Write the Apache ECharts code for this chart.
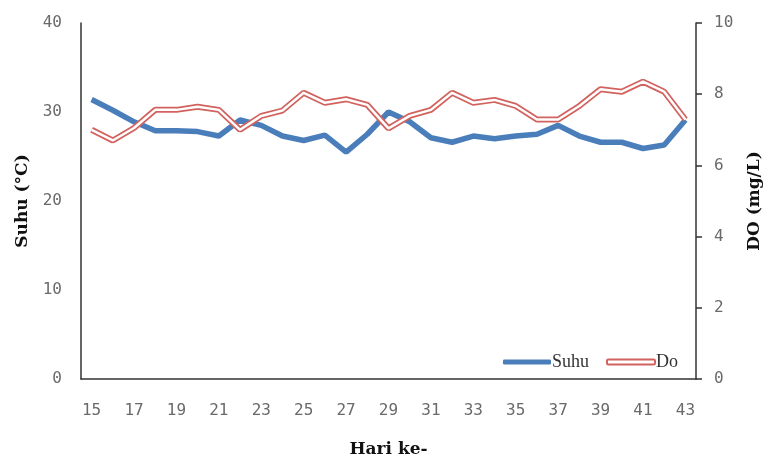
<!DOCTYPE html>
<html>
<head>
<meta charset="utf-8">
<script src="https://cdn.jsdelivr.net/npm/echarts@6/dist/echarts.min.js"></script>
<style>
  html, body { margin: 0; padding: 0; background: #fff; }
  #chart { width: 769px; height: 456px; }
</style>
</head>
<body>
<div id="chart"></div>
<script>
const days = ['15', '16', '17', '18', '19', '20', '21', '22', '23', '24', '25', '26', '27', '28', '29',
  '30', '31', '32', '33', '34', '35', '36', '37', '38', '39', '40', '41', '42', '43']
const suhu = [31.4, 30.2, 28.9, 27.9, 27.9, 27.8, 27.3, 29.1, 28.5, 27.3, 26.8, 27.4, 25.5, 27.5, 30.0,
  28.9, 27.1, 26.6, 27.3, 27.0, 27.3, 27.5, 28.5, 27.3, 26.6, 26.6, 25.9, 26.3, 29.1]
const doValues = [7.0, 6.7, 7.05, 7.56, 7.56, 7.65, 7.56, 7.0, 7.39, 7.54, 8.04, 7.76, 7.86, 7.7, 7.04,
  7.39, 7.56, 8.04, 7.76, 7.84, 7.67, 7.29, 7.29, 7.67, 8.14, 8.07, 8.35, 8.07, 7.29]
const suhuTicks = [0, 40, 10]
const doTicks = [0, 10, 2]

const blue = '#4a7ebb'
const red = '#d2625e'
const tickFont = { color: '#6a6a6a', fontSize: 16, fontFamily: 'DejaVu Sans Mono' }
const nameFont = { color: '#111', fontSize: 17, fontWeight: 'bold', fontFamily: 'DejaVu Serif' }

const chart = echarts.init(document.getElementById('chart'))
chart.setOption({
  animation: false,
  grid: { left: 81, right: 73, top: 23, bottom: 77, outerBoundsMode: 'none', containLabel: false },
  legend: {
    data: [
      { name: 'Suhu', icon: 'roundRect', itemStyle: { color: blue } },
      { name: 'Do', icon: 'roundRect', itemStyle: { color: '#fff', borderColor: red, borderWidth: 2 } }
    ],
    right: 86,
    bottom: 80,
    itemWidth: 48,
    itemHeight: 5,
    itemGap: 17,
    textStyle: { color: '#333', fontSize: 18, fontFamily: 'Liberation Serif', padding: [0, 0, 0, -4] }
  },
  xAxis: {
    type: 'category',
    data: days,
    name: 'Hari ke-',
    nameLocation: 'middle',
    nameGap: 62,
    nameTextStyle: nameFont,
    axisLine: { lineStyle: { color: '#333', width: 1.5 } },
    axisTick: { show: false },
    axisLabel: { ...tickFont, interval: 1, margin: 24 }
  },
  yAxis: [
    {
      type: 'value',
      min: suhuTicks[0],
      max: suhuTicks[1],
      interval: suhuTicks[2],
      name: 'Suhu (°C)',
      nameLocation: 'middle',
      nameGap: 50,
      nameTextStyle: nameFont,
      axisLine: { show: true, lineStyle: { color: '#333', width: 1.5 } },
      axisTick: { show: false },
      splitLine: { show: false },
      axisLabel: { ...tickFont, margin: 19 }
    },
    {
      type: 'value',
      min: doTicks[0],
      max: doTicks[1],
      interval: doTicks[2],
      name: 'DO (mg/L)',
      nameLocation: 'middle',
      nameGap: 50,
      nameRotate: 90,
      nameTextStyle: nameFont,
      axisLine: { show: true, lineStyle: { color: '#333', width: 1.5 } },
      axisTick: { show: true, length: 6, lineStyle: { color: '#333', width: 1.5 } },
      splitLine: { show: false },
      axisLabel: { ...tickFont, margin: 18 }
    }
  ],
  series: [
    {
      name: 'Suhu',
      type: 'line',
      data: suhu,
      yAxisIndex: 0,
      symbol: 'none',
      lineStyle: { color: blue, width: 5.5 },
      itemStyle: { color: blue },
      z: 2
    },
    {
      name: 'Do',
      type: 'line',
      data: doValues,
      yAxisIndex: 1,
      symbol: 'none',
      lineStyle: { color: red, width: 6 },
      itemStyle: { color: red },
      z: 3
    },
    {
      name: 'Do inner',
      type: 'line',
      data: doValues,
      yAxisIndex: 1,
      symbol: 'none',
      lineStyle: { color: '#fff', width: 2.5 },
      z: 4
    }
  ]
})
</script>
</body>
</html>
